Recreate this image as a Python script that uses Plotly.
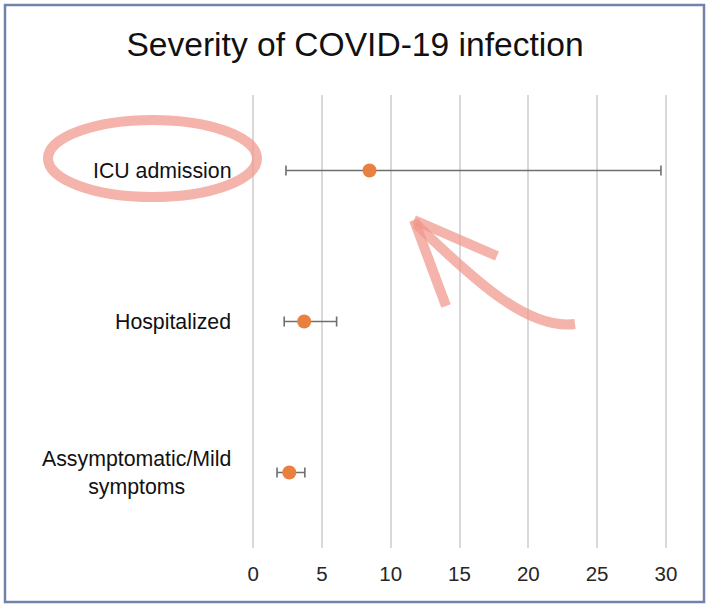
import plotly.graph_objects as go

# ---- data ----
categories = ["ICU admission", "Hospitalized", "Assymptomatic/Mild symptoms"]
category_labels = ["ICU admission", "Hospitalized", "Assymptomatic/Mild<br>symptoms"]
estimates = [8.46, 3.71, 2.63]
lower = [2.39, 2.26, 1.74]
upper = [29.64, 6.07, 3.76]
x_ticks = [0, 5, 10, 15, 20, 25, 30]

W, H = 708, 606
ML, MR, MT, MB = 252, 41, 95, 58
PW, PH = W - ML - MR, H - MT - MB


def px(x):
    return (x - ML) / PW


def py(y):
    return (H - MB - y) / PH


err_plus = [u - e for u, e in zip(upper, estimates)]
err_minus = [e - l for e, l in zip(estimates, lower)]

FONT = "Liberation Sans, Arial, sans-serif"

fig = go.Figure()
fig.add_trace(go.Scatter(
    x=estimates, y=categories, mode="markers",
    marker=dict(size=14, color="#E8803F"),
    error_x=dict(type="data", symmetric=False, array=err_plus, arrayminus=err_minus,
                 color="#6F6F6F", thickness=1.6, width=5),
    showlegend=False, hoverinfo="skip",
))

annotations = []
for c, lab in zip(categories, category_labels):
    annotations.append(dict(
        x=0, xref="paper", y=c, yref="y", text=lab, showarrow=False,
        xanchor="right", yanchor="middle", align="center", xshift=-19,
        font=dict(family=FONT, size=21.3, color="#111111"),
    ))

pink = "rgba(240,150,138,0.72)"
shapes = [
    # outer frame
    dict(type="rect", xref="paper", yref="paper",
         x0=px(5), x1=px(704), y0=py(602), y1=py(5),
         line=dict(color="#7282A8", width=2.5), layer="above"),
    # ellipse around ICU admission
    dict(type="circle", xref="paper", yref="paper",
         x0=px(48), x1=px(257), y0=py(197), y1=py(120),
         line=dict(color=pink, width=10), layer="above"),
]
# hand-drawn arrow
tip = (414, 220)
arrow_paths = [
    [tip, (446, 306)],
    [tip, (497, 256)],
]
for seg in arrow_paths:
    (x0, y0), (x1, y1) = seg
    shapes.append(dict(type="line", xref="paper", yref="paper",
                       x0=px(x0), y0=py(y0), x1=px(x1), y1=py(y1),
                       line=dict(color=pink, width=10), layer="above"))
curve = [(416, 224), (480, 286), (530, 330), (575, 324)]
path = "M {},{} C {},{} {},{} {},{}".format(
    px(curve[0][0]), py(curve[0][1]), px(curve[1][0]), py(curve[1][1]),
    px(curve[2][0]), py(curve[2][1]), px(curve[3][0]), py(curve[3][1]))
shapes.append(dict(type="path", xref="paper", yref="paper", path=path,
                   line=dict(color=pink, width=10), layer="above"))

fig.update_layout(
    width=W, height=H,
    margin=dict(l=ML, r=MR, t=MT, b=MB),
    paper_bgcolor="white", plot_bgcolor="white",
    title=dict(text="Severity of COVID-19 infection", x=355 / W, xanchor="center",
               y=1 - 44 / H, yanchor="middle", yref="container",
               font=dict(family=FONT, size=33.6, color="#111111")),
    xaxis=dict(range=[-0.08, 30.08], tickvals=x_ticks, showgrid=True, gridcolor="#D9D9D9",
               gridwidth=1.5, zeroline=False, showline=False, ticks="",
               tickfont=dict(family=FONT, size=20.5, color="#262626"),
               ticklabelstandoff=11, fixedrange=True),
    yaxis=dict(type="category", categoryorder="array", categoryarray=categories,
               range=[2.5, -0.5], showgrid=False, zeroline=False, showline=False,
               showticklabels=False, ticks="", fixedrange=True),
    annotations=annotations,
    shapes=shapes,
)

fig.write_html("out.html")
